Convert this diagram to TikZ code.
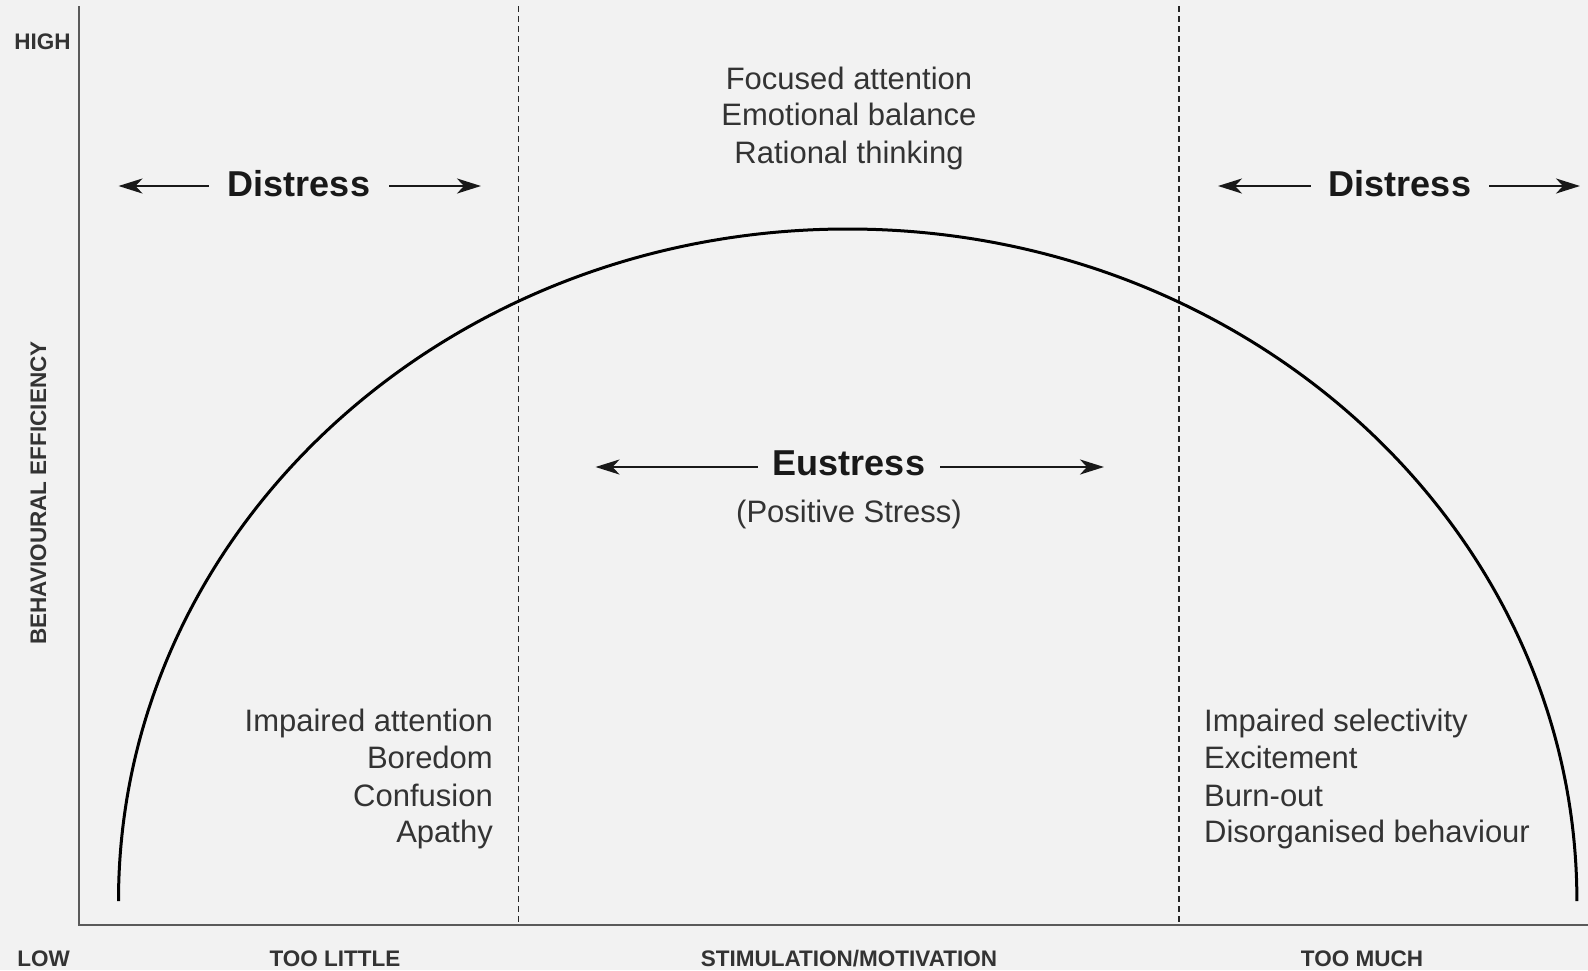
\documentclass[tikz,border=0pt]{standalone}
\usepackage{fontspec}
\setmainfont{Liberation Sans}
\usetikzlibrary{arrows.meta}
\definecolor{bg}{HTML}{F2F2F2}
\definecolor{axisgray}{HTML}{5A5A5A}
\definecolor{txt}{HTML}{333333}

\begin{document}
\begin{tikzpicture}[x=1pt,y=-1pt,
  axisline/.style={draw=axisgray,line width=2.2},
  divider/.style={draw=black!85,line width=1.5,dash pattern=on 6 off 4},
  curve/.style={draw=black,line width=3},
  dirarrow/.style={draw=black!90,line width=2.6,-{Stealth[length=24,width=15,inset=7]}},
  headlabel/.style={font=\fontsize{36}{40}\selectfont\bfseries,text=black!90,inner sep=0,anchor=base},
  itemtext/.style={font=\fontsize{31}{37}\selectfont,text=txt,inner sep=0},
  axislabel/.style={font=\fontsize{22.5}{26}\selectfont\bfseries,text=black!80,inner sep=0,anchor=base}]

  % page and background
  \useasboundingbox (0,0) rectangle (1588,970);
  \fill[bg] (0,0) rectangle (1588,970);

  % axes
  \coordinate (origin) at (79,925);
  \coordinate (ytop) at (79,6);
  \coordinate (xend) at (1588,925);
  \draw[axisline] (ytop) -- (origin) -- (xend);

  % zone dividers
  \coordinate (d1top) at (518.5,6);
  \coordinate (d1bot) at (518.5,925);
  \coordinate (d2top) at (1179,6);
  \coordinate (d2bot) at (1179,925);
  \draw[divider] (d1top) -- (d1bot);
  \draw[divider] (d2top) -- (d2bot);

  % inverted-U performance curve
  \coordinate (cstart) at (118.5,901);
  \draw[curve] (cstart) arc[start angle=180,end angle=360,x radius=729.2,y radius=672];

  % axis labels
  \node[axislabel] (high) at (42.5,49.5) {HIGH};
  \node[axislabel] (low) at (43.5,966) {LOW};
  \node[axislabel] (little) at (335,966) {TOO LITTLE};
  \node[axislabel] (stim) at (849,966) {STIMULATION/MOTIVATION};
  \node[axislabel] (much) at (1362,966) {TOO MUCH};
  \node[font=\fontsize{22.5}{26}\selectfont\bfseries,text=black!80,inner sep=0,rotate=90] (yl) at (38.5,493) {BEHAVIOURAL EFFICIENCY};

  % left distress zone
  \node[headlabel,outer xsep=19] (dl) at (299,196) {Distress};
  \coordinate (dlL) at (118.5,186);
  \coordinate (dlR) at (481,186);
  \draw[dirarrow] (dl.west |- dlL) -- (dlL);
  \draw[dirarrow] (dl.east |- dlR) -- (dlR);

  % right distress zone
  \node[headlabel,outer xsep=18] (dr) at (1400,196) {Distress};
  \coordinate (drL) at (1218,186);
  \coordinate (drR) at (1580,186);
  \draw[dirarrow] (dr.west |- drL) -- (drL);
  \draw[dirarrow] (dr.east |- drR) -- (drR);

  % optimal zone
  \node[itemtext,anchor=base] (t1) at (849,89) {Focused attention};
  \node[itemtext,anchor=base] (t2) at (849,125.5) {Emotional balance};
  \node[itemtext,anchor=base] (t3) at (849,163) {Rational thinking};

  \node[headlabel,outer xsep=15] (eu) at (849,475) {Eustress};
  \coordinate (euL) at (595.5,467);
  \coordinate (euR) at (1104,467);
  \draw[dirarrow] (eu.west |- euL) -- (euL);
  \draw[dirarrow] (eu.east |- euR) -- (euR);
  \node[itemtext,anchor=base] (pos) at (849,522) {(Positive Stress)};

  % symptoms of too little stimulation
  \node[itemtext,anchor=base east] (l1) at (493,731) {Impaired attention};
  \node[itemtext,anchor=base east] (l2) at (493,768.5) {Boredom};
  \node[itemtext,anchor=base east] (l3) at (493,806) {Confusion};
  \node[itemtext,anchor=base east] (l4) at (493,842.5) {Apathy};

  % symptoms of too much stimulation
  \node[itemtext,anchor=base west] (r1) at (1204,731) {Impaired selectivity};
  \node[itemtext,anchor=base west] (r2) at (1204,768.5) {Excitement};
  \node[itemtext,anchor=base west] (r3) at (1204,806) {Burn-out};
  \node[itemtext,anchor=base west] (r4) at (1204,842.5) {Disorganised behaviour};
\end{tikzpicture}
\end{document}
